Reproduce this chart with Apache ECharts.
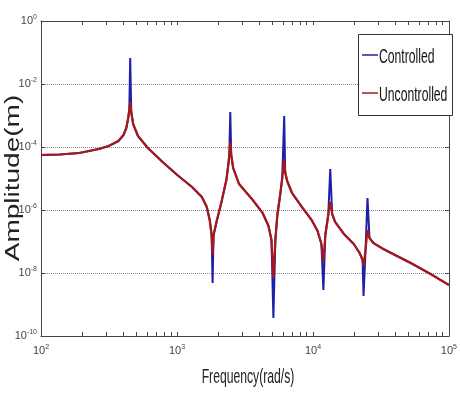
<!DOCTYPE html>
<html>
<head>
<meta charset="utf-8">
<script src="https://cdn.jsdelivr.net/npm/echarts@6/dist/echarts.min.js"></script>
<style>
  html, body { margin: 0; padding: 0; background: #fff; }
  #chart { width: 460px; height: 399px; }
</style>
</head>
<body>
<div id="chart"></div>
<script>
// Frequency samples (rad/s) shared by both responses
const frequency = [
  100, 137, 191, 266, 315, 371, 404, 424, 438, 446,
  453, 461, 476, 517, 611, 784, 1005, 1290, 1524, 1656,
  1740, 1798, 1828, 1858, 1953, 2124, 2308, 2384, 2425, 2466,
  2506, 2590, 2862, 3611, 4265, 4712, 4954, 5117, 5290, 5470,
  5750, 5945, 6145, 6245, 6457, 7015, 8280, 9775, 10810, 11540,
  11930, 12330, 12960, 13400, 13850, 14560, 16900, 19960, 22040, 23170,
  23550, 24360, 25180, 26050, 27840, 32880, 38830, 54090, 75370, 100000
];

// Amplitude (m) without control
const uncontrolled = [
  5.57e-5, 5.78e-5, 6.45e-5, 8.65e-5, 1.08e-4, 1.55e-4, 2.40e-4, 4.01e-4, 8.33e-4, 1.50e-3,
  2.68e-3, 1.29e-3, 5.37e-4, 2.23e-4, 9.29e-5, 3.34e-5, 1.29e-5, 5.37e-6, 2.59e-6, 1.25e-6,
  4.82e-7, 1.61e-7, 3.73e-8, 1.61e-7, 4.16e-7, 1.80e-6, 8.96e-6, 2.68e-5, 5.57e-5, 1.44e-4,
  5.57e-5, 2.15e-5, 6.68e-6, 2.07e-6, 8.03e-7, 3.10e-7, 1.12e-7, 6.93e-9, 1.12e-7, 6.94e-7,
  3.22e-6, 1.04e-5, 3.87e-5, 1.61e-5, 8.33e-6, 3.47e-6, 1.25e-6, 4.82e-7, 2.15e-7, 8.33e-8,
  2.23e-8, 1.61e-7, 6.94e-7, 1.80e-6, 7.46e-7, 4.16e-7, 1.73e-7, 8.33e-8, 4.31e-8, 2.59e-8,
  1.67e-8, 5.37e-8, 2.32e-7, 1.29e-7, 8.96e-8, 5.78e-8, 4.01e-8, 1.93e-8, 8.65e-9, 4.16e-9
];

// Amplitude (m) with control
const controlled = [
  5.57e-5, 5.78e-5, 6.45e-5, 8.65e-5, 1.08e-4, 1.55e-4, 2.40e-4, 4.01e-4, 8.33e-4, 1.50e-3,
  6.69e-2, 1.29e-3, 5.37e-4, 2.23e-4, 9.29e-5, 3.34e-5, 1.29e-5, 5.37e-6, 2.59e-6, 1.25e-6,
  4.82e-7, 1.61e-7, 4.82e-9, 1.61e-7, 4.16e-7, 1.80e-6, 8.96e-6, 2.68e-5, 5.57e-5, 1.29e-3,
  5.57e-5, 2.15e-5, 6.68e-6, 2.07e-6, 8.03e-7, 3.10e-7, 1.12e-7, 3.73e-10, 1.12e-7, 6.94e-7,
  3.22e-6, 1.04e-5, 9.64e-4, 1.61e-5, 8.33e-6, 3.47e-6, 1.25e-6, 4.82e-7, 2.15e-7, 8.33e-8,
  2.89e-9, 1.61e-7, 6.94e-7, 2.00e-5, 7.46e-7, 4.16e-7, 1.73e-7, 8.33e-8, 4.31e-8, 2.59e-8,
  1.86e-9, 5.37e-8, 2.40e-6, 1.29e-7, 8.96e-8, 5.78e-8, 4.01e-8, 1.93e-8, 8.65e-9, 4.16e-9
];

// Axis tick positions and labels
const xTickValues = [
  100, 200, 300, 400, 500, 600, 700, 800, 900,
  1000, 2000, 3000, 4000, 5000, 6000, 7000, 8000, 9000,
  10000, 20000, 30000, 40000, 50000, 60000, 70000, 80000, 90000, 100000
];
const xLabelValues = [100, 1000, 10000, 100000];
const yLabelValues = [1e-10, 1e-8, 1e-6, 1e-4, 1e-2, 1];

const seriesNames = ['Controlled', 'Uncontrolled'];
const seriesColors = ['#1f1fa8', '#a81818'];
const xTitle = 'Frequency(rad/s)';
const yTitle = 'Amplitude(m)';

function pairs(ys) {
  return frequency.map((f, i) => [f, ys[i]]);
}

function powerLabel(v) {
  const e = Math.round(Math.log10(v));
  return '{b|10}{e|' + e + '}';
}

const sans = 'Liberation Sans, Arial, sans-serif';
const labelRich = {
  b: { fontSize: 11, color: '#444', fontFamily: sans, lineHeight: 14 },
  e: { fontSize: 7, color: '#444', fontFamily: sans, verticalAlign: 'top', lineHeight: 14 }
};

const frameLine = { lineStyle: { color: '#444', width: 1 } };

// Boxed legend drawn with narrow, tall lettering
function legendGraphic() {
  const rows = [55, 93];
  const items = [{
    type: 'rect', shape: { x: 358.5, y: 34.5, width: 94, height: 81 },
    style: { fill: '#fff', stroke: '#333', lineWidth: 1 }, z: 10
  }];
  seriesNames.forEach((name, i) => {
    items.push({
      type: 'line', shape: { x1: 362, y1: rows[i], x2: 378, y2: rows[i] },
      style: { stroke: seriesColors[i], lineWidth: 2, opacity: 0.75 }, z: 11
    });
    items.push({
      type: 'text', x: 379, y: rows[i] + 2, scaleX: 0.58,
      style: { text: name, font: '21px ' + sans, fill: '#111',
               textAlign: 'left', textVerticalAlign: 'middle' }, z: 11
    });
  });
  return items;
}

const chart = echarts.init(document.getElementById('chart'), null, { renderer: 'canvas' });

chart.setOption({
  animation: false,
  backgroundColor: '#ffffff',
  grid: { left: 41, right: 3, top: 21, bottom: 63, containLabel: false },
  xAxis: [
    {
      type: 'log', logBase: 10, min: 100, max: 100000, position: 'bottom',
      axisLine: frameLine,
      axisTick: { inside: true, length: 4, customValues: xTickValues, lineStyle: { color: '#444' } },
      axisLabel: { customValues: xLabelValues, formatter: powerLabel, rich: labelRich, margin: 8 },
      splitLine: { show: false },
      minorTick: { show: false }
    },
    {
      type: 'log', logBase: 10, min: 100, max: 100000, position: 'top',
      axisLine: frameLine,
      axisTick: { inside: true, length: 4, customValues: xTickValues, lineStyle: { color: '#444' } },
      axisLabel: { show: false },
      splitLine: { show: false }
    }
  ],
  yAxis: [
    {
      type: 'log', logBase: 10, min: 1e-10, max: 1, position: 'left',
      axisLine: frameLine,
      axisTick: { inside: true, length: 4, customValues: yLabelValues, lineStyle: { color: '#444' } },
      axisLabel: { customValues: yLabelValues, formatter: powerLabel, rich: labelRich, margin: 4 },
      splitLine: { show: true, lineStyle: { type: 'dotted', color: '#888', width: 1 } }
    },
    {
      type: 'log', logBase: 10, min: 1e-10, max: 1, position: 'right',
      axisLine: frameLine,
      axisTick: { inside: true, length: 4, customValues: yLabelValues, lineStyle: { color: '#444' } },
      axisLabel: { show: false },
      splitLine: { show: false }
    }
  ],
  series: [
    {
      name: seriesNames[0], type: 'line', xAxisIndex: 0, yAxisIndex: 0,
      symbol: 'none', showSymbol: false,
      lineStyle: { color: seriesColors[0], width: 2 },
      itemStyle: { color: seriesColors[0] },
      data: pairs(controlled)
    },
    {
      name: seriesNames[1], type: 'line', xAxisIndex: 0, yAxisIndex: 0,
      symbol: 'none', showSymbol: false,
      lineStyle: { color: seriesColors[1], width: 2.2 },
      itemStyle: { color: seriesColors[1] },
      data: pairs(uncontrolled)
    }
  ],
  graphic: [
    {
      type: 'text', x: 13, y: 178, rotation: Math.PI / 2, scaleX: 1.4,
      style: { text: yTitle, font: '20px ' + sans, fill: '#222',
               textAlign: 'center', textVerticalAlign: 'middle' }
    },
    {
      type: 'text', x: 248, y: 377, scaleX: 0.58,
      style: { text: xTitle, font: '21px ' + sans, fill: '#222',
               textAlign: 'center', textVerticalAlign: 'middle' }
    }
  ].concat(legendGraphic())
});
</script>
</body>
</html>
